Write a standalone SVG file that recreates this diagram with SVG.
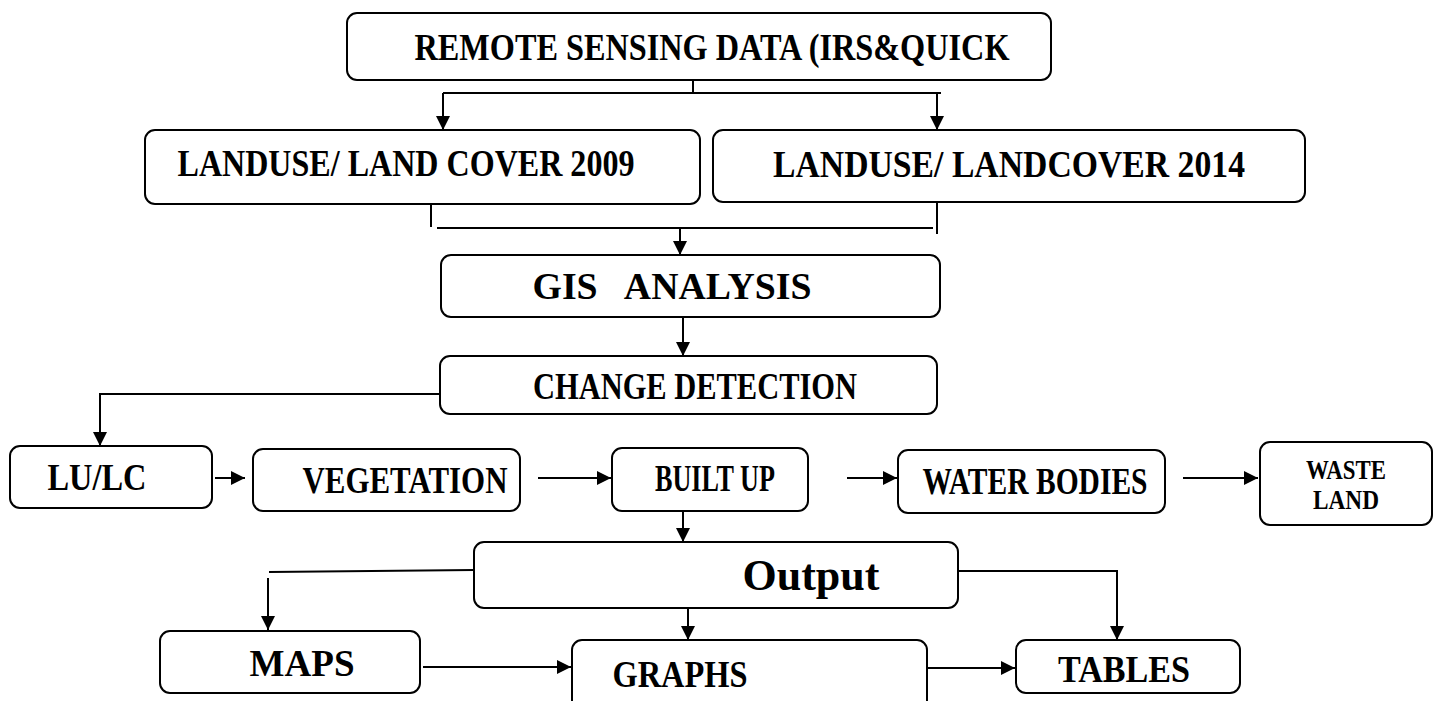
<svg xmlns="http://www.w3.org/2000/svg" width="1435" height="701" viewBox="0 0 1435 701">
  <style>
    .box { fill: #fff; stroke: #000; stroke-width: 2; }
    .lbl { font-family: "Liberation Serif", "Times New Roman", serif; font-weight: bold; font-size: 38px; text-anchor: middle; fill: #000; }
    .small { font-size: 27px; }
    .big { font-size: 44px; }
    .wire { fill: none; stroke: #000; stroke-width: 2; }
  </style>
  <defs>
    <marker id="arrow" markerUnits="userSpaceOnUse" markerWidth="15" markerHeight="16" refX="14" refY="8" orient="auto">
      <path d="M0,1 L14,8 L0,15 z" fill="#000"/>
    </marker>
  </defs>
  <rect width="1435" height="701" fill="#fff"/>

  <g id="connectors">
    <path class="wire" d="M693,80 V93"/>
    <path class="wire" d="M443,93 H941"/>
    <path class="wire" d="M443,93 V130" marker-end="url(#arrow)"/>
    <path class="wire" d="M937,93 V130" marker-end="url(#arrow)"/>
    <path class="wire" d="M431,203 V227"/>
    <path class="wire" d="M437,228 H933"/>
    <path class="wire" d="M937,202 V234"/>
    <path class="wire" d="M680,228 V255" marker-end="url(#arrow)"/>
    <path class="wire" d="M683,317 V356" marker-end="url(#arrow)"/>
    <path class="wire" d="M440,394 H100 V446" marker-end="url(#arrow)"/>
    <path class="wire" d="M215,478 H245" marker-end="url(#arrow)"/>
    <path class="wire" d="M538,478 H611" marker-end="url(#arrow)"/>
    <path class="wire" d="M847,478 H897" marker-end="url(#arrow)"/>
    <path class="wire" d="M1183,478 H1258" marker-end="url(#arrow)"/>
    <path class="wire" d="M683,511 V542" marker-end="url(#arrow)"/>
    <path class="wire" d="M474,570 L269,572"/>
    <path class="wire" d="M268,578 V630" marker-end="url(#arrow)"/>
    <path class="wire" d="M958,571 H1117 V640" marker-end="url(#arrow)"/>
    <path class="wire" d="M688,608 V640" marker-end="url(#arrow)"/>
    <path class="wire" d="M423,667 H571" marker-end="url(#arrow)"/>
    <path class="wire" d="M927,668 H1015" marker-end="url(#arrow)"/>
  </g>

  <g id="remote-sensing">
    <rect class="box" x="347" y="13" width="704" height="67" rx="10"/>
    <text class="lbl" x="712" y="60" textLength="595" lengthAdjust="spacingAndGlyphs">REMOTE SENSING DATA (IRS&amp;QUICK</text>
  </g>
  <g id="lulc-2009">
    <rect class="box" x="145" y="130" width="555" height="74" rx="10"/>
    <text class="lbl" x="406" y="176" textLength="457" lengthAdjust="spacingAndGlyphs">LANDUSE/ LAND COVER 2009</text>
  </g>
  <g id="lulc-2014">
    <rect class="box" x="713" y="130" width="592" height="72" rx="10"/>
    <text class="lbl" x="1009" y="177" textLength="472" lengthAdjust="spacingAndGlyphs">LANDUSE/ LANDCOVER 2014</text>
  </g>
  <g id="gis-analysis">
    <rect class="box" x="441" y="255" width="499" height="62" rx="10"/>
    <text class="lbl" x="672" y="299" textLength="279" lengthAdjust="spacingAndGlyphs" xml:space="preserve">GIS   ANALYSIS</text>
  </g>
  <g id="change-detection">
    <rect class="box" x="440" y="356" width="497" height="58" rx="10"/>
    <text class="lbl" x="695" y="399" textLength="324" lengthAdjust="spacingAndGlyphs">CHANGE DETECTION</text>
  </g>
  <g id="lu-lc">
    <rect class="box" x="10" y="446" width="202" height="62" rx="10"/>
    <text class="lbl" x="97" y="490" textLength="99" lengthAdjust="spacingAndGlyphs">LU/LC</text>
  </g>
  <g id="vegetation">
    <rect class="box" x="253" y="449" width="267" height="62" rx="10"/>
    <text class="lbl" x="405" y="493" textLength="205" lengthAdjust="spacingAndGlyphs">VEGETATION</text>
  </g>
  <g id="built-up">
    <rect class="box" x="612" y="448" width="196" height="63" rx="10"/>
    <text class="lbl" x="715" y="491" textLength="120" lengthAdjust="spacingAndGlyphs">BUILT UP</text>
  </g>
  <g id="water-bodies">
    <rect class="box" x="898" y="450" width="267" height="63" rx="10"/>
    <text class="lbl" x="1035" y="494" textLength="225" lengthAdjust="spacingAndGlyphs">WATER BODIES</text>
  </g>
  <g id="waste-land">
    <rect class="box" x="1260" y="442" width="172" height="83" rx="10"/>
    <text class="lbl small" x="1346" y="479" textLength="80" lengthAdjust="spacingAndGlyphs">WASTE</text>
    <text class="lbl small" x="1346" y="509" textLength="66" lengthAdjust="spacingAndGlyphs">LAND</text>
  </g>
  <g id="output">
    <rect class="box" x="474" y="542" width="484" height="66" rx="10"/>
    <text class="lbl big" x="811" y="590">Output</text>
  </g>
  <g id="maps">
    <rect class="box" x="160" y="631" width="260" height="62" rx="10"/>
    <text class="lbl" x="302" y="676" textLength="105" lengthAdjust="spacingAndGlyphs">MAPS</text>
  </g>
  <g id="graphs">
    <rect class="box" x="572" y="640" width="355" height="70" rx="10"/>
    <text class="lbl" x="680" y="687" textLength="135" lengthAdjust="spacingAndGlyphs">GRAPHS</text>
  </g>
  <g id="tables">
    <rect class="box" x="1016" y="640" width="224" height="53" rx="10"/>
    <text class="lbl" x="1124" y="682" textLength="132" lengthAdjust="spacingAndGlyphs">TABLES</text>
  </g>
</svg>
